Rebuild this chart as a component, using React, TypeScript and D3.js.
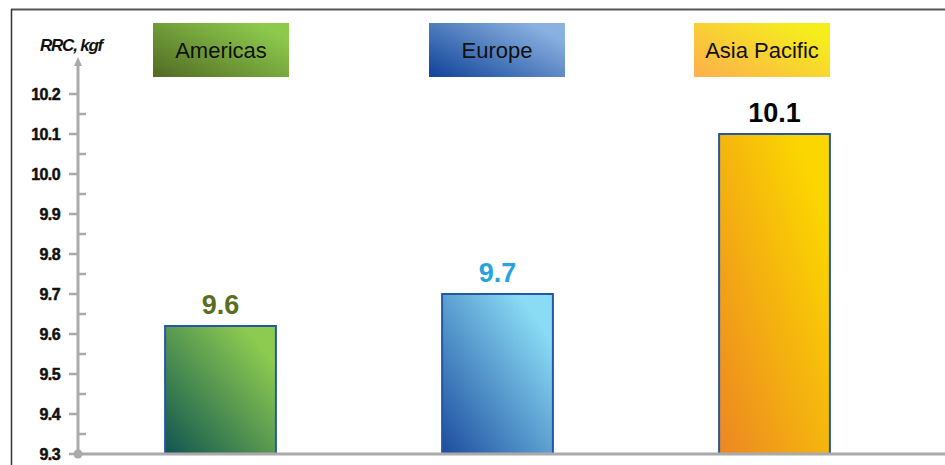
import React from "react";
import * as d3 from "d3";

const regions = ["Americas", "Europe", "Asia Pacific"];
const values = [9.62, 9.7, 10.1];
const valueLabels = ["9.6", "9.7", "10.1"];
const yTicks = [9.3, 9.4, 9.5, 9.6, 9.7, 9.8, 9.9, 10.0, 10.1, 10.2];
const yMinorTicks = [9.35, 9.45, 9.55, 9.65, 9.75, 9.85, 9.95, 10.05, 10.15];
const legendCenters = [221, 497, 762];

const barGrads = [
  { id: "gAm", from: "#0f5550", to: "#8dca50" },
  { id: "gEu", from: "#1c4c9e", to: "#8adcf5" },
  { id: "gAp", from: "#ec8622", to: "#fbd600" },
];
const legendGrads = [
  { id: "lAm", from: "#546f26", to: "#8dca4c" },
  { id: "lEu", from: "#15479c", to: "#8ab2e0" },
  { id: "lAp", from: "#fcb24a", to: "#f6ee1c" },
];
const labelColors = ["#5b6e1e", "#27a3df", "#000000"];

export default function App() {
  const W = 945;
  const H = 465;
  const axisX = 78;
  const y = d3.scaleLinear().domain([9.3, 10.2]).range([454, 94]);
  const x = d3
    .scaleBand<string>()
    .domain(regions)
    .range([82, 913])
    .paddingInner(0.6)
    .paddingOuter(0.3);
  const font = "'Liberation Sans', Arial, sans-serif";

  return (
    <svg
      width={W}
      height={H}
      style={{ position: "absolute", left: 0, top: 0, background: "#fff" }}
    >
      <defs>
        {barGrads.map((g) => (
          <linearGradient key={g.id} id={g.id} x1="0" y1="1" x2="1" y2="0">
            <stop offset="0" stopColor={g.from} />
            <stop offset="0.85" stopColor={g.to} />
          </linearGradient>
        ))}
        {legendGrads.map((g) => (
          <linearGradient key={g.id} id={g.id} x1="0" y1="0.9" x2="1" y2="0.1">
            <stop offset="0" stopColor={g.from} />
            <stop offset="0.9" stopColor={g.to} />
          </linearGradient>
        ))}
      </defs>

      {/* frame */}
      <line x1={11} y1={9.5} x2={W} y2={9.5} stroke="#555" strokeWidth={2} />
      <line x1={11.5} y1={9} x2={11.5} y2={H} stroke="#333" strokeWidth={1.5} />

      {/* legend boxes */}
      {regions.map((r, i) => (
        <g key={r}>
          <rect
            x={legendCenters[i] - 68}
            y={23}
            width={136}
            height={54}
            fill={`url(#${legendGrads[i].id})`}
          />
          <text
            x={legendCenters[i]}
            y={50}
            dy="0.35em"
            textAnchor="middle"
            fontFamily={font}
            fontSize={22}
            fill="#111"
          >
            {r}
          </text>
        </g>
      ))}

      {/* axis title */}
      <text
        x={71}
        y={51}
        textAnchor="middle"
        fontFamily={font}
        fontSize={17}
        fontWeight="bold"
        fontStyle="italic"
        letterSpacing={-1.2}
        fill="#111"
      >
        RRC, kgf
      </text>

      {/* bars */}
      {regions.map((r, i) => {
        const bx = x(r)!;
        const bw = x.bandwidth();
        const top = y(values[i]);
        return (
          <g key={r}>
            <rect
              x={bx}
              y={top}
              width={bw}
              height={y(9.3) - top}
              fill={`url(#${barGrads[i].id})`}
              stroke="#2457a8"
              strokeWidth={2}
            />
            <text
              x={bx + bw / 2}
              y={top - 21}
              dy="0.35em"
              textAnchor="middle"
              fontFamily={font}
              fontSize={27}
              fontWeight="bold"
              fill={labelColors[i]}
            >
              {valueLabels[i]}
            </text>
          </g>
        );
      })}

      {/* y axis */}
      <line x1={axisX} y1={454} x2={axisX} y2={64} stroke="#aaa" strokeWidth={3} />
      <path
        d={`M${axisX - 4},66 L${axisX},57 L${axisX + 4},66 Z`}
        fill="#aaa"
      />
      {yTicks.map((t) => (
        <g key={t}>
          <line
            x1={axisX - 9}
            x2={axisX}
            y1={y(t)}
            y2={y(t)}
            stroke="#aaa"
            strokeWidth={2.5}
          />
          <text
            x={60}
            y={y(t)}
            dy="0.35em"
            textAnchor="end"
            fontFamily={font}
            fontSize={16}
            fontWeight="bold"
            letterSpacing={-0.6}
            stroke="#111"
            strokeWidth={0.5}
            fill="#111"
          >
            {t.toFixed(1)}
          </text>
        </g>
      ))}
      {yMinorTicks.map((t) => (
        <line
          key={t}
          x1={axisX}
          x2={axisX + 8}
          y1={y(t)}
          y2={y(t)}
          stroke="#aaa"
          strokeWidth={2.5}
        />
      ))}

      {/* baseline */}
      <line x1={axisX} y1={454} x2={W} y2={454} stroke="#aaa" strokeWidth={3} />
      <circle cx={axisX} cy={454} r={4.5} fill="#aaa" />
    </svg>
  );
}
